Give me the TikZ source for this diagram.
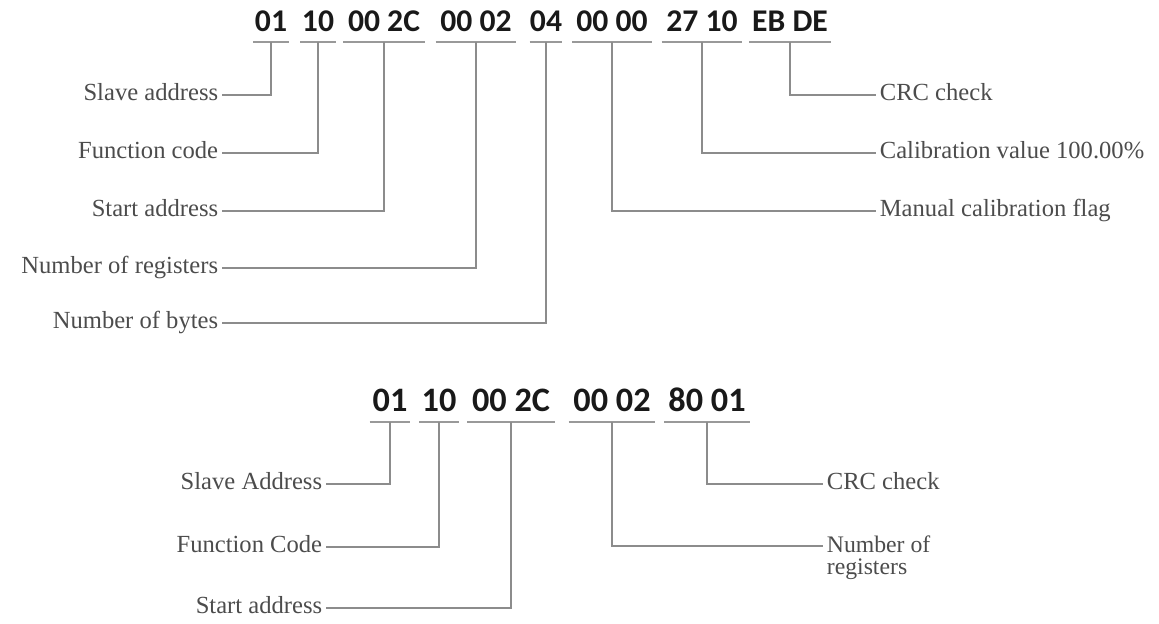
\documentclass[tikz,border=0pt]{standalone}
\usepackage{fontspec}
\setmainfont{Liberation Serif}
\newfontfamily\hexfont{Carlito}
\tikzset{
  hexbyte/.style={font=\hexfont\bfseries\fontsize{18}{18}\selectfont, text=black!90,
    anchor=south, inner xsep=0pt, inner ysep=5.5pt, text height=11.5pt, text depth=0pt},
  bighex/.style={hexbyte, font=\hexfont\bfseries\fontsize{19.5}{19.5}\selectfont, text height=12.5pt},
  uline/.style={draw=black!40, line width=1.2pt},
  link/.style={draw=black!45, line width=1pt},
  lbl/.style={font=\fontsize{14}{14}\selectfont, text=black!70, inner sep=2pt,
    text height=9pt, text depth=2.5pt}
}
\begin{document}
\begin{tikzpicture}[x=0.02cm,y=-0.02cm]
  \useasboundingbox (0,0) rectangle (1159,623);
  % write frame
  \node[hexbyte, minimum width=0.7cm] (addr) at (271,42) {01};
  \node[hexbyte, minimum width=0.7cm] (func) at (318,42) {10};
  \node[hexbyte, minimum width=1.62cm] (start) at (384,42) {00 2C};
  \node[hexbyte, minimum width=1.6cm] (regs) at (476,42) {00 02};
  \node[hexbyte, minimum width=0.64cm] (bytes) at (546,42) {04};
  \node[hexbyte, minimum width=1.58cm] (flag) at (612,42) {00 00};
  \node[hexbyte, minimum width=1.6cm] (calib) at (702,42) {27 10};
  \node[hexbyte, minimum width=1.62cm] (crc) at (790,42) {EB DE};
  \foreach \n in {addr,func,start,regs,bytes,flag,calib,crc}
    \draw[uline] (\n.south west) -- (\n.south east);

  \node[lbl, anchor=east] (addrlbl) at (222,95) {Slave address};
  \node[lbl, anchor=east] (funclbl) at (222,153) {Function code};
  \node[lbl, anchor=east] (startlbl) at (222,211) {Start address};
  \node[lbl, anchor=east] (regslbl) at (222,268) {Number of registers};
  \node[lbl, anchor=east] (byteslbl) at (222,323) {Number of bytes};
  \node[lbl, anchor=west] (crclbl) at (876,95) {CRC check};
  \node[lbl, anchor=west] (caliblbl) at (876,153) {Calibration value 100.00\%};
  \node[lbl, anchor=west] (flaglbl) at (876,211) {Manual calibration flag};

  \draw[link] (addr.south) |- (addrlbl.east);
  \draw[link] (func.south) |- (funclbl.east);
  \draw[link] (start.south) |- (startlbl.east);
  \draw[link] (regs.south) |- (regslbl.east);
  \draw[link] (bytes.south) |- (byteslbl.east);
  \draw[link] (crc.south) |- (crclbl.west);
  \draw[link] (calib.south) |- (caliblbl.west);
  \draw[link] (flag.south) |- (flaglbl.west);

  % reply frame
  \node[bighex, minimum width=0.8cm] (raddr) at (390,422) {01};
  \node[bighex, minimum width=0.78cm] (rfunc) at (439,422) {10};
  \node[bighex, minimum width=1.74cm] (rstart) at (511,422) {00 2C};
  \node[bighex, minimum width=1.72cm] (rregs) at (612,422) {00 02};
  \node[bighex, minimum width=1.7cm] (rcrc) at (707,422) {80 01};
  \foreach \n in {raddr,rfunc,rstart,rregs,rcrc}
    \draw[uline] (\n.south west) -- (\n.south east);

  \node[lbl, anchor=east] (raddrlbl) at (326,484) {Slave Address};
  \node[lbl, anchor=east] (rfunclbl) at (326,547) {Function Code};
  \node[lbl, anchor=east] (rstartlbl) at (326,608) {Start address};
  \node[lbl, anchor=west] (rcrclbl) at (823,484) {CRC check};
  \node[lbl, anchor=north west, align=left, text height=, text depth=,
    font=\fontsize{13.5}{13}\selectfont, inner ysep=0pt] (rregslbl) at (823,535) {Number of\\registers};

  \draw[link] (raddr.south) |- (raddrlbl.east);
  \draw[link] (rfunc.south) |- (rfunclbl.east);
  \draw[link] (rstart.south) |- (rstartlbl.east);
  \draw[link] (rcrc.south) |- (rcrclbl.west);
  \draw[link] (rregs.south) |- (823,546);
\end{tikzpicture}
\end{document}
